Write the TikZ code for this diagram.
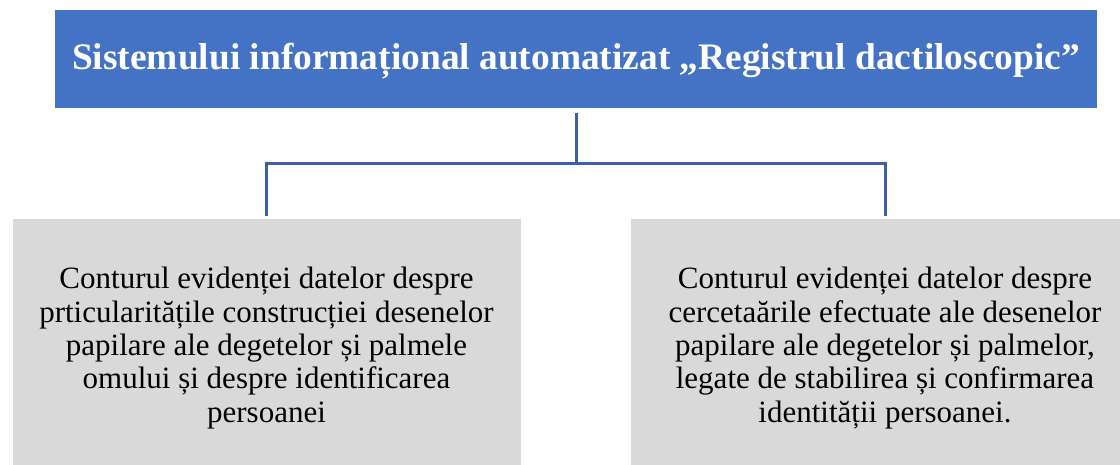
\documentclass[tikz,border=0pt]{standalone}
\usepackage{fontspec}
\setmainfont{Liberation Serif}
\definecolor{topblue}{HTML}{4472C4}
\definecolor{boxgray}{HTML}{D9D9D9}
\definecolor{linkblue}{HTML}{3C5FA8}
\tikzset{
  topbox/.style={fill=topblue, draw=none, minimum width=1042pt, minimum height=98pt, inner sep=0pt},
  subbox/.style={fill=boxgray, draw=none, minimum width=508pt, minimum height=252pt, inner sep=0pt},
  titletext/.style={text=white, inner sep=0pt, font=\rmfamily\fontsize{37.4}{44}\selectfont\bfseries},
  bodytext/.style={text=black, inner sep=0pt, align=center, font=\rmfamily\fontsize{31}{33.4}\selectfont},
  link/.style={draw=linkblue, line width=3pt}
}
\begin{document}
\begin{tikzpicture}[x=1pt,y=-1pt]
\clip (0,0) rectangle (1120,465);
\fill[white] (0,0) rectangle (1120,465);
\node[topbox] (top) at (576,59.5) {};
\node[titletext, anchor=base] (toplabel) at (576,69.5) {Sistemului informațional automatizat „Registrul dactiloscopic”};
\node[subbox, anchor=north] (left) at (266.5,219) {};
\node[subbox, anchor=north] (right) at (885,219) {};
\node[bodytext] (lefttext) at (266.5,348) {Conturul evidenței datelor despre\\prticularitățile construcției desenelor\\papilare ale degetelor și palmele\\omului și despre identificarea\\persoanei};
\node[bodytext] (righttext) at (885,348) {Conturul evidenței datelor despre\\cercetaările efectuate ale desenelor\\papilare ale degetelor și palmelor,\\legate de stabilirea și confirmarea\\identității persoanei.};
\coordinate (bus) at (576,163.5);
\draw[link] ([yshift=-4pt]top.south) -- (bus);
\draw[link] ([yshift=3pt]left.north) |- (bus) -| ([yshift=3pt]right.north);
\end{tikzpicture}
\end{document}
